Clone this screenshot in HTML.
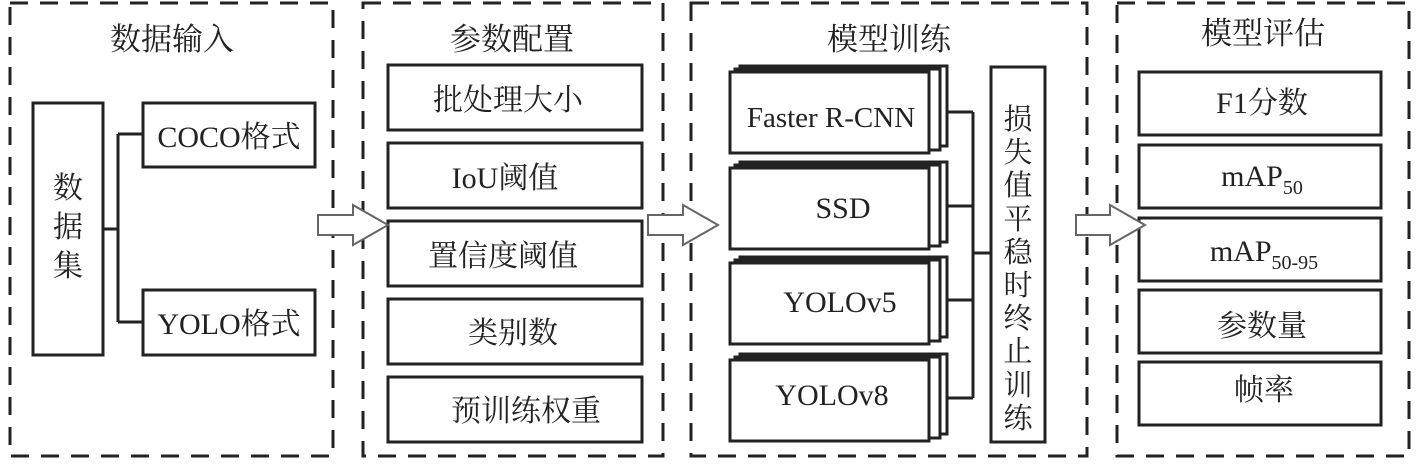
<!DOCTYPE html>
<html><head><meta charset="utf-8"><style>
html,body{margin:0;padding:0;background:#fff;}
svg{display:block;}
text{font-family:"Liberation Serif","Noto Serif CJK SC","Noto Sans CJK SC",serif;fill:#222;}
</style></head><body>
<svg width="1417" height="468" viewBox="0 0 1417 468" xmlns="http://www.w3.org/2000/svg">
<g fill="none" stroke="#222" stroke-width="3" stroke-dasharray="18 12">
<rect x="10" y="3" width="323" height="453"/>
<rect x="363" y="3" width="300" height="453"/>
<rect x="691" y="3" width="396" height="453"/>
<rect x="1117" y="3" width="292" height="453"/>
</g>
<g font-size="31" text-anchor="middle">
<text x="172" y="50">数据输入</text>
<text x="512" y="50">参数配置</text>
<text x="889" y="50">模型训练</text>
<text x="1263" y="44">模型评估</text>
</g>
<g fill="#fff" stroke="#222" stroke-width="3">
<rect x="33" y="103" width="70" height="252"/>
<rect x="143" y="103" width="172" height="64"/>
<rect x="143" y="290" width="172" height="65"/>
<rect x="388" y="65" width="254" height="65"/>
<rect x="388" y="143" width="254" height="65"/>
<rect x="388" y="221" width="254" height="65"/>
<rect x="388" y="299" width="254" height="65"/>
<rect x="388" y="377" width="254" height="65"/>
<rect x="991" y="67" width="54" height="375"/>
<rect x="1139" y="72" width="242" height="63"/>
<rect x="1139" y="145" width="242" height="63"/>
<rect x="1139" y="218" width="242" height="63"/>
<rect x="1139" y="290" width="242" height="63"/>
<rect x="1139" y="362" width="242" height="63"/>
</g>
<g fill="none" stroke="#222" stroke-width="3">
<path d="M103 229 H118 M118 134 V322 M118 134 H143 M118 322 H143"/>
<path d="M947 112 H973 M947 206 H973 M947 300 H973 M947 398 H973 M973 112 V398 M973 253 H991"/>
</g>
<g fill="#fff" stroke="#222" stroke-width="3">
<g><rect x="740" y="66" width="207" height="80"/><rect x="735" y="69" width="205" height="81"/><rect x="730" y="72" width="199" height="81"/></g>
<g><rect x="740" y="162" width="207" height="80"/><rect x="735" y="165" width="205" height="81"/><rect x="730" y="168" width="199" height="81"/></g>
<g><rect x="740" y="257" width="207" height="80"/><rect x="735" y="260" width="205" height="81"/><rect x="730" y="263" width="199" height="81"/></g>
<g><rect x="740" y="354" width="207" height="80"/><rect x="735" y="357" width="205" height="81"/><rect x="730" y="360" width="199" height="81"/></g>
</g>
<g fill="#fff" stroke="#666" stroke-width="2">
<path d="M318 215 H353 V205 L388 225 L353 245 V235 H318 Z"/>
<path d="M648 215 H683 V205 L718 225 L683 245 V235 H648 Z"/>
<path d="M1076 215 H1110 V205 L1145 225 L1110 245 V235 H1076 Z"/>
</g>
<g font-size="30" text-anchor="middle">
<text x="68" y="198">数</text><text x="68" y="237">据</text><text x="68" y="276">集</text>
<text x="229" y="147">COCO格式</text>
<text x="229" y="334">YOLO格式</text>
<text x="508" y="110">批处理大小</text>
<text x="505" y="188">IoU阈值</text>
<text x="503" y="266">置信度阈值</text>
<text x="513" y="343">类别数</text>
<text x="526" y="421">预训练权重</text>
<text x="831" y="127" font-size="29">Faster R-CNN</text>
<text x="843" y="218">SSD</text>
<text x="840" y="312">YOLOv5</text>
<text x="832" y="405">YOLOv8</text>
<text x="1262" y="113">F1分数</text>
<text x="1262" y="186">mAP<tspan font-size="20" dy="8">50</tspan></text>
<text x="1264" y="261">mAP<tspan font-size="20" dy="8">50-95</tspan></text>
<text x="1262" y="336">参数量</text>
<text x="1264" y="400">帧率</text>
</g>
<g font-size="29" text-anchor="middle">
<text x="1018" y="129">损</text><text x="1018" y="162">失</text><text x="1018" y="195">值</text>
<text x="1018" y="229">平</text><text x="1018" y="262">稳</text><text x="1018" y="295">时</text>
<text x="1018" y="328">终</text><text x="1018" y="361">止</text><text x="1018" y="395">训</text>
<text x="1018" y="428">练</text>
</g>
</svg>
</body></html>
